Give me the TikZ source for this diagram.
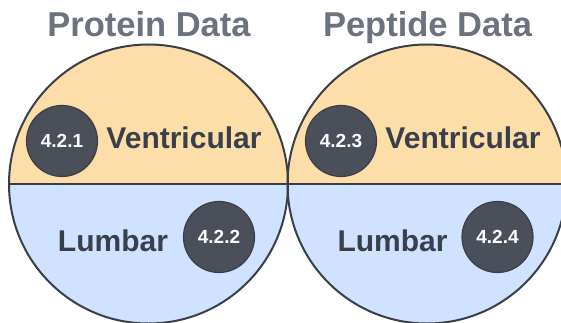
\documentclass[tikz,border=0pt]{standalone}
\usepackage{fontspec}
\setmainfont{Liberation Sans}
\definecolor{topfill}{HTML}{FDDDA8}
\definecolor{botfill}{HTML}{CFE2FF}
\definecolor{edge}{HTML}{3A3F47}
\definecolor{badge}{HTML}{4A4F59}
\definecolor{titlegray}{HTML}{6C727E}
\definecolor{darktext}{HTML}{3A404B}
\tikzset{
  titletext/.style={font=\bfseries\fontsize{34.5}{34.5}\selectfont, text=titlegray, anchor=base, inner sep=0pt},
  regiontext/.style={font=\bfseries\fontsize{30}{30}\selectfont, text=darktext, anchor=base, inner sep=0pt},
  badgecircle/.style={circle, fill=badge, draw=edge, line width=1.2pt, minimum size=71pt, inner sep=0pt},
  badgetext/.style={font=\bfseries\fontsize{19}{19}\selectfont, text=white, anchor=base, inner sep=0pt},
  bigedge/.style={draw=edge, line width=2pt}
}
\begin{document}
\begin{tikzpicture}[x=1pt,y=1pt]
\useasboundingbox (0,0) rectangle (561,322);
\clip (0,0) rectangle (561,322);
\fill[white] (0,0) rectangle (561,322);
% big circles
\foreach \cx/\nm in {148.5/L,427/R}{
  \fill[topfill] (\cx-139.5,138) arc (180:0:139.5) -- cycle;
  \fill[botfill] (\cx-139.5,138) arc (180:360:139.5) -- cycle;
  \coordinate (\nm c) at (\cx,138);
  \coordinate (\nm w) at (\cx-139.5,138);
  \coordinate (\nm e) at (\cx+139.5,138);
}
\draw[bigedge] (Lw) -- (Re);
\draw[bigedge] (Lc) circle (139.5);
\draw[bigedge] (Rc) circle (139.5);
% titles
\node[titletext] (t1) at (149,285) {Protein Data};
\node[titletext] (t2) at (427.5,285) {Peptide Data};
% badges
\node[badgecircle] (b1) at (62,181) {};
\node[badgecircle] (b2) at (219,85) {};
\node[badgecircle] (b3) at (341,181) {};
\node[badgecircle] (b4) at (497.5,85) {};
\node[badgetext] at (62,174.5) {4.2.1};
\node[badgetext] at (219,78.5) {4.2.2};
\node[badgetext] at (341,174.5) {4.2.3};
\node[badgetext] at (497.5,78.5) {4.2.4};
% region labels
\node[regiontext] (v1) at (184,174) {Ventricular};
\node[regiontext] (l1) at (113,71) {Lumbar};
\node[regiontext] (v2) at (463,174) {Ventricular};
\node[regiontext] (l2) at (392.5,71) {Lumbar};
\end{tikzpicture}
\end{document}
